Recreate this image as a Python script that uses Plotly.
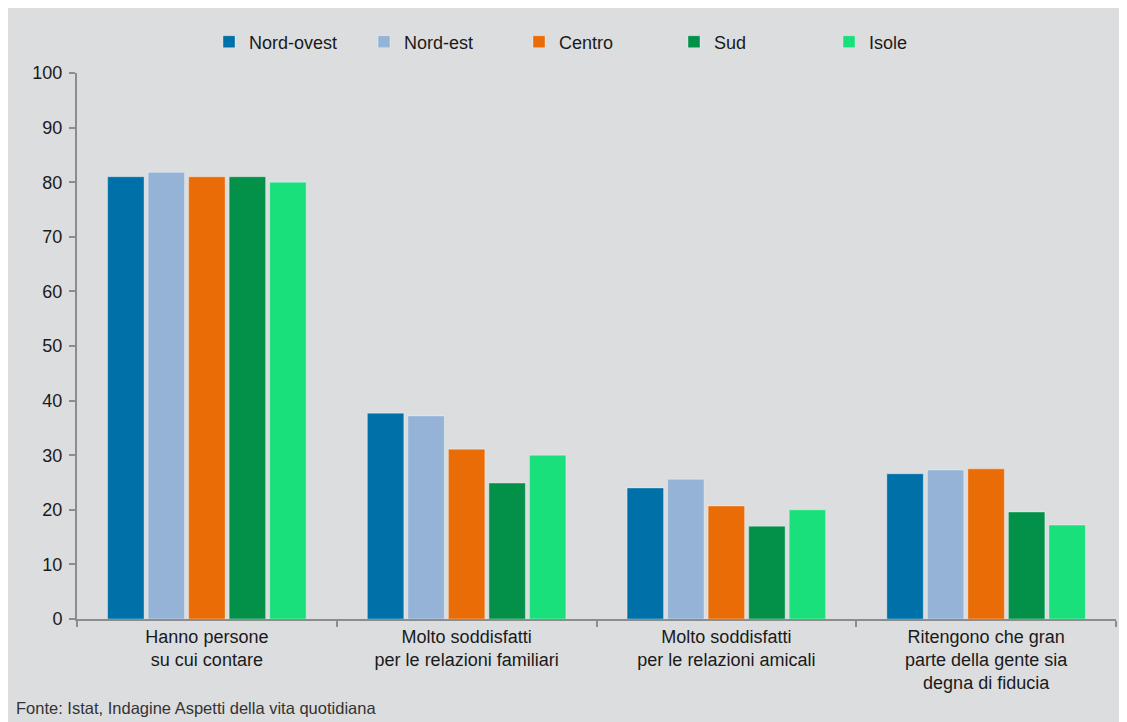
import plotly.graph_objects as go

categories = [
    "Hanno persone<br>su cui contare",
    "Molto soddisfatti<br>per le relazioni familiari",
    "Molto soddisfatti<br>per le relazioni amicali",
    "Ritengono che gran<br>parte della gente sia<br>degna di fiducia",
]
series_names = ["Nord-ovest", "Nord-est", "Centro", "Sud", "Isole"]
nord_ovest = [81.0, 37.7, 24.0, 26.6]
nord_est = [81.8, 37.2, 25.6, 27.3]
centro = [81.0, 31.1, 20.7, 27.5]
sud = [81.0, 24.9, 17.0, 19.6]
isole = [80.0, 30.0, 20.0, 17.2]
colors = ["#0070a8", "#95b3d7", "#e96c07", "#03914a", "#19e07a"]
y_ticks = [0, 10, 20, 30, 40, 50, 60, 70, 80, 90, 100]
source = "Fonte: Istat, Indagine Aspetti della vita quotidiana"

W, H = 1119, 714
ml, mr, mt, mb = 69, 11, 65, 103
pw, ph = W - ml - mr, H - mt - mb

fig = go.Figure()
for name, vals, col in zip(series_names, [nord_ovest, nord_est, centro, sud, isole], colors):
    fig.add_trace(go.Bar(
        x=categories, y=vals, name=name,
        marker=dict(color=col, line=dict(color="rgba(255,255,255,0.35)", width=1)),
    ))

font_family = "Liberation Sans, Arial, sans-serif"
fig.update_layout(
    width=W, height=H,
    margin=dict(l=ml, r=mr, t=mt, b=mb, pad=0, autoexpand=False),
    paper_bgcolor="#dcdddf",
    plot_bgcolor="#dcdddf",
    barmode="group",
    bargap=0.22,
    bargroupgap=0.1,
    font=dict(family=font_family, size=18, color="#1a1a1a"),
    legend=dict(
        orientation="h", x=(201 - ml) / pw, xanchor="left",
        y=1.0 + (mt - 34) / ph, yanchor="middle",
        entrywidth=110, entrywidthmode="pixels", itemwidth=30,
        font=dict(size=18, color="#1a1a1a"), bgcolor="rgba(0,0,0,0)",
        traceorder="normal",
    ),
    xaxis=dict(
        showline=True, linecolor="#8c8c8c", linewidth=2,
        ticks="outside", ticklen=6, tickcolor="#8c8c8c", tickwidth=1.5,
        tickson="boundaries", showgrid=False,
        tickfont=dict(size=18, color="#1a1a1a"),
    ),
    yaxis=dict(
        range=[0, 100], tickvals=y_ticks,
        showline=True, linecolor="#8c8c8c", linewidth=2,
        ticks="outside", ticklen=6, tickcolor="#8c8c8c", tickwidth=1.5,
        ticklabelstandoff=3,
        showgrid=False, zeroline=False,
        tickfont=dict(size=18, color="#1a1a1a"),
    ),
    annotations=[dict(
        text=source, xref="paper", yref="paper",
        x=(6 - ml) / pw, xanchor="left",
        y=-(700 - mt - ph) / ph, yanchor="middle",
        showarrow=False,
        font=dict(family="Liberation Sans Narrow, Arial Narrow, Liberation Sans, sans-serif", size=16.5, color="#333333"),
    )],
)

fig.write_html("out.html")
